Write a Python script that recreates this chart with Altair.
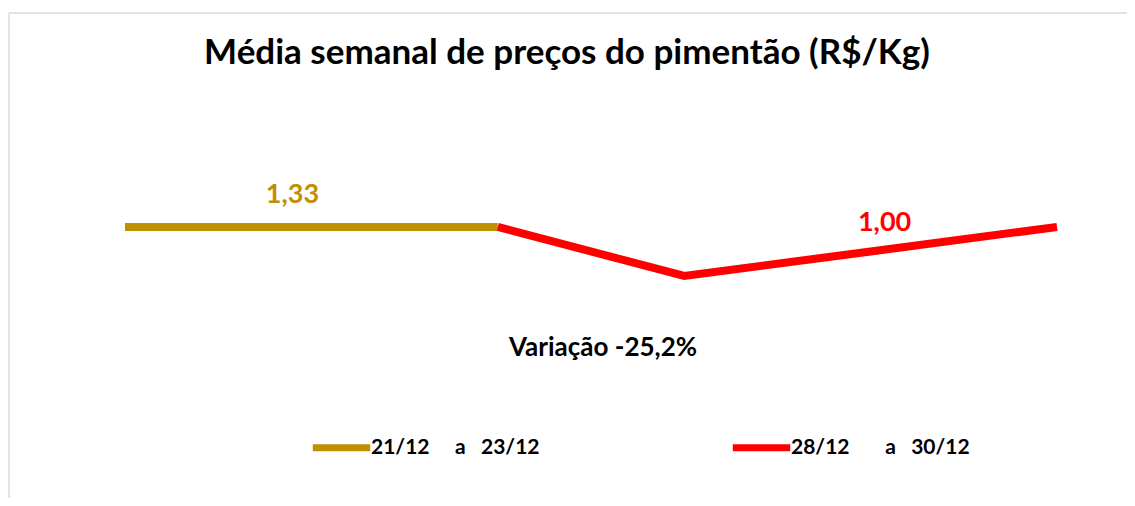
import altair as alt
import pandas as pd

NB = "\u00a0"
periods = ["21/12" + NB * 5 + "a" + NB * 3 + "23/12", "28/12" + NB * 7 + "a" + NB * 3 + "30/12"]
colors = ["#bf9000", "#ff0000"]

gold_x = [0, 1, 2]
gold_y = [1.33, 1.33, 1.33]
red_x = [2, 3, 4, 5]
red_y = [1.33, 0.67, 1.00, 1.33]

label_x = [1, 4]
label_y = [1.33, 1.00]
label_text = ["1,33", "1,00"]

title_text = ["Média semanal de preços do pimentão (R$/Kg)"]
note_text = ["Variação -25,2%"]

rows = [{"period": periods[0], "x": a, "y": b} for a, b in zip(gold_x, gold_y)]
rows += [{"period": periods[1], "x": a, "y": b} for a, b in zip(red_x, red_y)]
df = pd.DataFrame(rows)
ldf = pd.DataFrame({"period": periods, "x": label_x, "y": label_y, "text": label_text})

W, H = 1118, 485
xscale = alt.Scale(domain=[-0.6223, 5.3755], nice=False, zero=False)
yscale = alt.Scale(domain=[-2.321, 4.212], nice=False, zero=False)
cscale = alt.Scale(domain=periods, range=colors)
FONT = "Lato"

line = alt.Chart(df).mark_line(strokeWidth=8, strokeCap="butt", strokeJoin="miter").encode(
    x=alt.X("x:Q", scale=xscale, axis=None),
    y=alt.Y("y:Q", scale=yscale, axis=None),
    color=alt.Color(
        "period:N",
        scale=cscale,
        legend=alt.Legend(
            orient="none",
            legendX=300,
            legendY=402,
            direction="horizontal",
            title=None,
            symbolType="stroke",
            symbolSize=3300,
            symbolStrokeWidth=7,
            symbolOpacity=1,
            labelFont=FONT,
            labelFontSize=21,
            labelFontWeight="bold",
            labelColor="#000000",
            labelOffset={"expr": "-3"},
            labelLimit=500,
            columnPadding=178,
            padding=0,
        ),
    ),
)

base_lbl = alt.Chart(ldf).encode(
    x=alt.X("x:Q", scale=xscale, axis=None),
    y=alt.Y("y:Q", scale=yscale, axis=None),
    text="text:N",
    color=alt.Color("period:N", scale=cscale, legend=None),
)
lbl_gold = base_lbl.transform_filter(alt.datum.text == "1,33").mark_text(
    font=FONT, fontSize=27, fontWeight="bold", baseline="alphabetic", dx=-19, dy=-24
)
lbl_red = base_lbl.transform_filter(alt.datum.text == "1,00").mark_text(
    font=FONT, fontSize=27, fontWeight="bold", baseline="alphabetic", dx=14, dy=-20
)

title = alt.Chart(pd.DataFrame({"t": title_text})).mark_text(
    font=FONT, fontSize=35, fontWeight="bold", color="#000000", baseline="middle", align="center"
).encode(text="t:N", x=alt.value(558), y=alt.value(40))

note = alt.Chart(pd.DataFrame({"t": note_text})).mark_text(
    font=FONT, fontSize=26, fontWeight="bold", color="#000000", baseline="middle", align="center"
).encode(text="t:N", x=alt.value(594), y=alt.value(335))

frame_df = pd.DataFrame({"k": [0]})
top_border = alt.Chart(frame_df).mark_rule(color="#d9d9d9", strokeWidth=1.5).encode(
    x=alt.value(0), x2=alt.value(W + 40), y=alt.value(0)
)
left_border = alt.Chart(frame_df).mark_rule(color="#d9d9d9", strokeWidth=1.5).encode(
    x=alt.value(0), y=alt.value(0), y2=alt.value(H + 40)
)

chart = (
    alt.layer(top_border, left_border, line, lbl_gold, lbl_red, title, note)
    .properties(
        width=W,
        height=H,
        padding={"left": 1, "top": 5, "right": 0, "bottom": 0},
        autosize=alt.AutoSizeParams(type="none"),
        background="#ffffff",
    )
    .configure_view(stroke=None)
)

chart.save("out.html", embed_options={"renderer": "svg", "actions": False})
